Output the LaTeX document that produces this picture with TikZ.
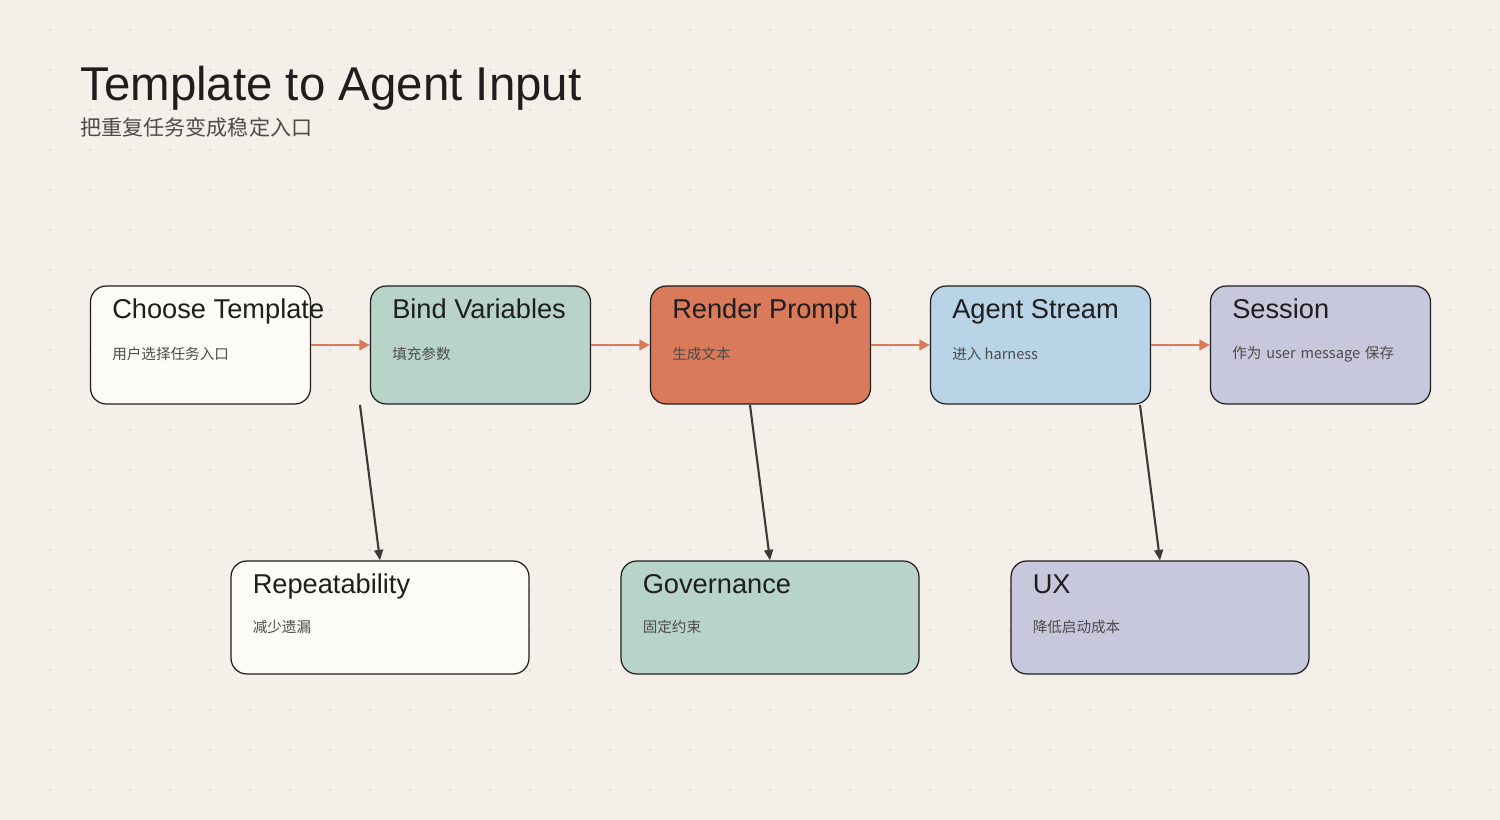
\documentclass[tikz,border=0pt]{standalone}
\usepackage{fontspec}
\setmainfont{Liberation Sans}
\newfontfamily\cjk{Noto Sans CJK SC}
\usetikzlibrary{positioning,arrows.meta}
\definecolor{paper}{HTML}{F4F0E9}
\definecolor{dotc}{HTML}{DAD4CA}
\definecolor{ivory}{HTML}{FDFBF5}
\definecolor{sage}{HTML}{B8D4C8}
\definecolor{clay}{HTML}{D97A5A}
\definecolor{sky}{HTML}{B8D4E6}
\definecolor{lilac}{HTML}{C8C8DC}
\definecolor{ink}{HTML}{1E1E1E}
\definecolor{arrowdark}{HTML}{3C3A38}
\tikzset{
  stage/.style={draw=ink,line width=0.7pt,rounded corners=9pt,minimum width=4.4cm,minimum height=2.36cm},
  low/.style={stage,minimum width=5.96cm,minimum height=2.26cm},
  flow/.style={-{Triangle[length=6pt,width=6pt]},draw=clay,line width=1.6pt},
  down/.style={-{Triangle[length=6pt,width=5pt]},draw=arrowdark,line width=1.2pt},
  head/.style={anchor=base west,font=\fontsize{15.5}{18}\selectfont,text=ink,inner sep=0pt},
  sub/.style={anchor=base west,font=\cjk\fontsize{8.3}{12}\selectfont,text=ink!80,inner sep=0pt,align=left}
}
\begin{document}
\begin{tikzpicture}[x=0.02cm,y=-0.02cm]
\fill[paper] (0,0) rectangle (1500,820);
\useasboundingbox (0,0) rectangle (1500,820);
\foreach \i in {1,...,37} \foreach \j in {1,...,20}
  \fill[dotc] (\i*40+10,\j*40-10) circle (0.6pt);
\node[anchor=base west,inner sep=0pt,font=\fontsize{27}{30}\selectfont,text=ink] (title) at (80,101) {Template to Agent Input};
\node[anchor=base west,inner sep=0pt,font=\cjk\fontsize{12}{14}\selectfont,text=ink!80] (subtitle) at (80,136) {把重复任务变成稳定入口};
% top row
\node[stage,fill=ivory] (choose) at (200.5,345) {};
\node[stage,fill=sage]  (bind)   at (480.5,345) {};
\node[stage,fill=clay]  (render) at (760.5,345) {};
\node[stage,fill=sky]   (agent)  at (1040.5,345) {};
\node[stage,fill=lilac] (session) at (1320.5,345) {};
% bottom row
\node[low,fill=ivory] (repeat) at (380,617.5) {};
\node[low,fill=sage]  (gov)    at (770,617.5) {};
\node[low,fill=lilac] (ux)     at (1160,617.5) {};
% labels
\foreach \n/\t/\s in {choose/Choose Template/用户选择任务入口,bind/Bind Variables/填充参数,render/Render Prompt/生成文本,agent/Agent Stream/进入 harness}{
  \node[head] at ([xshift=22*0.02cm,yshift=-33*0.02cm]\n.north west) {\t};
  \node[sub] at ([xshift=22*0.02cm,yshift=-74*0.02cm]\n.north west) {\s};
}
\node[head] at ([xshift=22*0.02cm,yshift=-33*0.02cm]session.north west) {Session};
\node[sub,anchor=north west,text width=3.5cm] at ([xshift=22*0.02cm,yshift=-61*0.02cm]session.north west) {作为 user message 保存};
\foreach \n/\t/\s in {repeat/Repeatability/减少遗漏,gov/Governance/固定约束,ux/UX/降低启动成本}{
  \node[head] at ([xshift=22*0.02cm,yshift=-33*0.02cm]\n.north west) {\t};
  \node[sub] at ([xshift=22*0.02cm,yshift=-72*0.02cm]\n.north west) {\s};
}
% flow
\draw[flow] (choose) -- (bind);
\draw[flow] (bind) -- (render);
\draw[flow] (render) -- (agent);
\draw[flow] (agent) -- (session);
% effects
\coordinate (s1) at (360,405);
\coordinate (s2) at (750,405);
\coordinate (s3) at (1140,405);
\draw[down] (s1) -- (repeat.north);
\draw[down] (s2) -- (gov.north);
\draw[down] (s3) -- (ux.north);
\end{tikzpicture}
\end{document}
